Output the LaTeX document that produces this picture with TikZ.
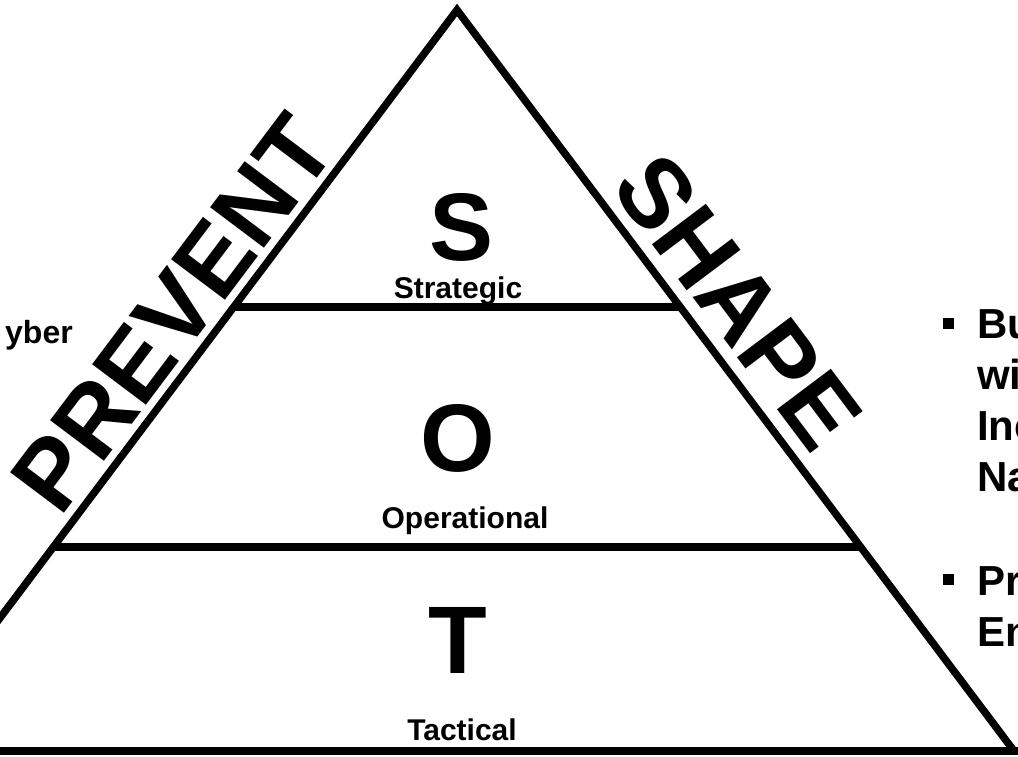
\documentclass[tikz,border=0pt]{standalone}
\usepackage{fontspec}
\setmainfont{Liberation Sans}
\usetikzlibrary{calc}
\begin{document}
\begin{tikzpicture}[x=1pt,y=-1pt,line join=miter,
  side/.style={draw=black,line width=7.5pt},
  tier/.style={draw=black,line width=7.5pt},
  baseline/.style={draw=black,line width=8pt},
  big/.style={font=\fontsize{96}{96}\selectfont\bfseries,inner sep=0pt,anchor=base},
  lbl/.style={font=\fontsize{30}{30}\selectfont\bfseries,inner sep=0pt,anchor=base},
  edge/.style={font=\fontsize{98}{98}\selectfont\bfseries,inner sep=0pt,anchor=base},
  side text/.style={font=\fontsize{32}{32}\selectfont\bfseries,inner sep=0pt},
  bul text/.style={font=\fontsize{42}{42}\selectfont\bfseries,inner sep=0pt,anchor=base west},
  bul/.style={fill=black,draw=none,minimum size=11pt,inner sep=0pt}]
\useasboundingbox (0,0) rectangle (1018,757);
\clip (0,0) rectangle (1018,757);
\fill[white] (0,0) rectangle (1018,757);
% triangle
\coordinate (apex) at (457,10);
\coordinate (bl) at (-100,751);
\coordinate (br) at (1014,751);
\coordinate (s1) at ($(apex)!0.4008!(bl)$);
\coordinate (s2) at ($(apex)!0.4008!(br)$);
\coordinate (o1) at ($(apex)!0.7247!(bl)$);
\coordinate (o2) at ($(apex)!0.7247!(br)$);
\coordinate (b1) at (-10,751);
\coordinate (b2) at (1030,751);
\draw[side] (bl) -- (apex) -- (br);
\draw[tier] (s1) -- (s2);
\draw[tier] (o1) -- (o2);
\draw[baseline] (b1) -- (b2);
% tier letters
\node[big] (S) at (462,260) {S};
\node[lbl] (Sl) at (458,298) {Strategic};
\node[big] (O) at (458,471) {O};
\node[lbl] (Ol) at (465,528) {Operational};
\node[big] (T) at (458,673) {T};
\node[lbl] (Tl) at (462,740) {Tactical};
% side words
\node[edge,rotate=53.06] (prevent) at (200,334) {PREVENT};
\node[edge,rotate=-53.06] (shape) at (711,322) {SHAPE};
% left clipped text
\node[side text,anchor=base east] (cyber) at (73,343) {yber};
% right clipped bullets
\node[bul] (bu1) at (948,323) {};
\node[bul text] (r1) at (977,338) {Bu};
\node[bul text] (r2) at (977,389) {wi};
\node[bul text] (r3) at (977,440) {Inc};
\node[bul text] (r4) at (977,491) {Na};
\node[bul] (bu2) at (948,579) {};
\node[bul text] (r5) at (977,595) {Pr};
\node[bul text] (r6) at (977,646) {En};
\end{tikzpicture}
\end{document}
